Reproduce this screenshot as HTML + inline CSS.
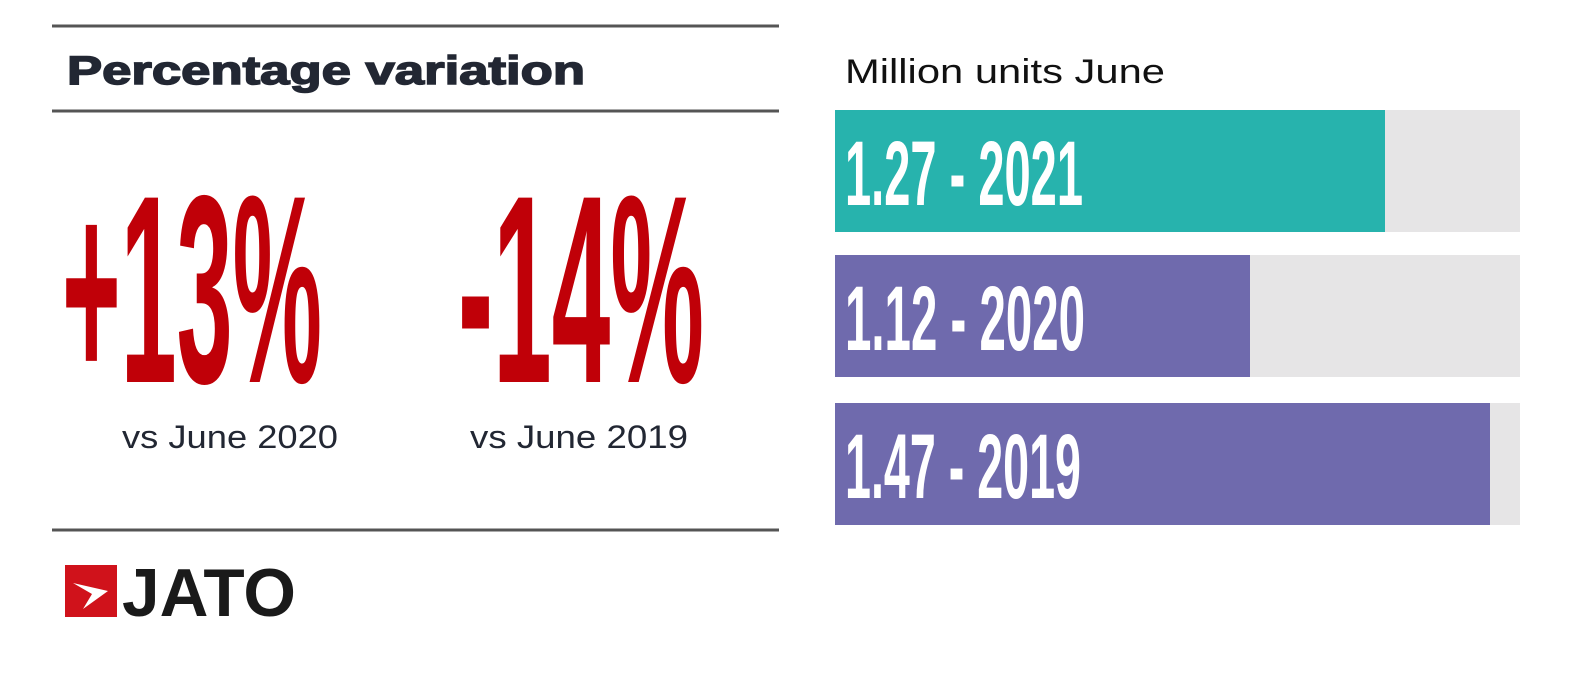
<!DOCTYPE html>
<html><head><meta charset="utf-8"><style>
html,body{margin:0;padding:0;background:#fff;}
svg{display:block;}
</style></head><body>
<svg width="1591" height="676" viewBox="0 0 1591 676" xmlns="http://www.w3.org/2000/svg">
<rect width="1591" height="676" fill="#fff"/>
<g stroke="#555" stroke-width="3">
<line x1="52" y1="26" x2="779" y2="26"/>
<line x1="52" y1="111" x2="779" y2="111"/>
<line x1="52" y1="530" x2="779" y2="530"/>
</g>
<text x="67" y="84" font-family="Liberation Sans, sans-serif" font-weight="bold" font-size="40" fill="#222733" stroke="#222733" stroke-width="1.5" textLength="518" lengthAdjust="spacingAndGlyphs">Percentage variation</text>
<g font-family="Liberation Sans, sans-serif" font-weight="bold" fill="#c00008">
<text x="62" y="382" font-size="268" textLength="260" lengthAdjust="spacingAndGlyphs">+13%</text>
<text x="458" y="382" font-size="268" textLength="246" lengthAdjust="spacingAndGlyphs">-14%</text>
</g>
<g font-family="Liberation Sans, sans-serif" font-size="32" fill="#222733">
<text x="122" y="448" textLength="216" lengthAdjust="spacingAndGlyphs">vs June 2020</text>
<text x="470" y="448" textLength="218" lengthAdjust="spacingAndGlyphs">vs June 2019</text>
</g>
<text x="845" y="83" font-family="Liberation Sans, sans-serif" font-size="34" fill="#111" textLength="320" lengthAdjust="spacingAndGlyphs">Million units June</text>
<rect x="835" y="110" width="685" height="122" fill="#e6e5e6"/>
<rect x="835" y="110" width="550" height="122" fill="#27b3ad"/>
<rect x="835" y="255" width="685" height="122" fill="#e6e5e6"/>
<rect x="835" y="255" width="415" height="122" fill="#6f6aad"/>
<rect x="835" y="403" width="685" height="122" fill="#e6e5e6"/>
<rect x="835" y="403" width="655" height="122" fill="#6f6aad"/>
<g font-family="Liberation Sans, sans-serif" font-weight="bold" font-size="92" fill="#fff">
<text x="845" y="205" textLength="238" lengthAdjust="spacingAndGlyphs">1.27 - 2021</text>
<text x="845" y="350" textLength="240" lengthAdjust="spacingAndGlyphs">1.12 - 2020</text>
<text x="845" y="498" textLength="236" lengthAdjust="spacingAndGlyphs">1.47 - 2019</text>
</g>
<rect x="65" y="565" width="52" height="52" fill="#d0121b"/>
<path d="M73 583 L108 591 L83 609 L92 594 Z" fill="#fff"/>
<text x="122" y="616" font-family="Liberation Sans, sans-serif" font-weight="bold" font-size="68" fill="#1a1a1a" textLength="174" lengthAdjust="spacingAndGlyphs">JATO</text>
</svg>
</body></html>
